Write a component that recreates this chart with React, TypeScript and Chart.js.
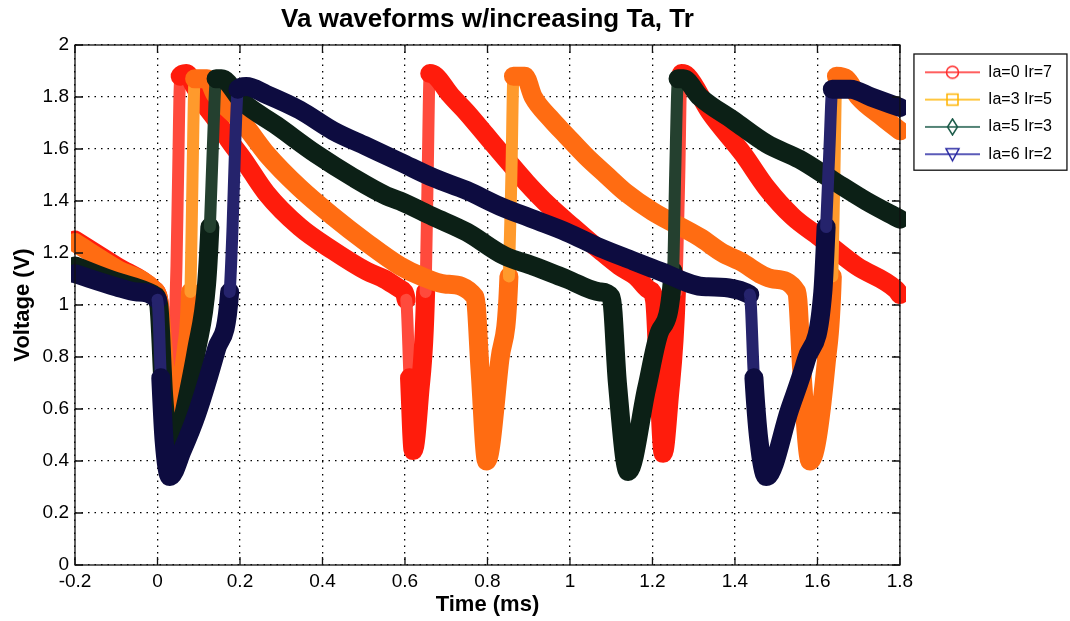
import React, { useEffect, useRef } from 'react';
import { Chart, registerables } from 'chart.js';

Chart.register(...registerables);

const chartTitle = 'Va waveforms w/increasing Ta, Tr';
const xAxisTitle = 'Time (ms)';
const yAxisTitle = 'Voltage (V)';
const seriesLabels = ['Ia=0 Ir=7', 'Ia=3 Ir=5', 'Ia=5 Ir=3', 'Ia=6 Ir=2'];
const xTickValues = [-0.2, 0, 0.2, 0.4, 0.6, 0.8, 1, 1.2, 1.4, 1.6, 1.8];
const yTickValues = [0, 0.2, 0.4, 0.6, 0.8, 1, 1.2, 1.4, 1.6, 1.8, 2];

// [time (ms), voltage (V)]
const redIa0: [number, number][] = [
  [-0.2, 1.25], [-0.1, 1.15], [-0.01, 1.06], [0.003, 1.02], [0.018, 0.72], [0.03, 0.47],
  [0.04, 0.8], [0.046, 1.15], [0.05, 1.5], [0.055, 1.88], [0.07, 1.89], [0.09, 1.84],
  [0.115, 1.77], [0.143, 1.71], [0.175, 1.63], [0.208, 1.56], [0.264, 1.43], [0.345, 1.3],
  [0.425, 1.21], [0.507, 1.13], [0.55, 1.1], [0.59, 1.06], [0.603, 1.02], [0.611, 0.72],
  [0.62, 0.44], [0.635, 0.65], [0.65, 1.05], [0.655, 1.5], [0.66, 1.89], [0.675, 1.88],
  [0.709, 1.81], [0.75, 1.74], [0.798, 1.65], [0.846, 1.56], [0.895, 1.47], [0.95, 1.38],
  [1.007, 1.3], [1.073, 1.21], [1.12, 1.15], [1.16, 1.11], [1.19, 1.06], [1.205, 1.02],
  [1.215, 0.72], [1.226, 0.43], [1.24, 0.63], [1.258, 1.05], [1.265, 1.5], [1.27, 1.89],
  [1.285, 1.88], [1.34, 1.74], [1.42, 1.58], [1.477, 1.45], [1.54, 1.34], [1.606, 1.26],
  [1.695, 1.15], [1.79, 1.06], [1.8, 1.04],
];

const orangeIa3: [number, number][] = [
  [-0.2, 1.24], [-0.1, 1.14], [-0.01, 1.06], [0.003, 1.02], [0.018, 0.75], [0.035, 0.49],
  [0.05, 0.65], [0.07, 0.83], [0.08, 1.05], [0.085, 1.5], [0.09, 1.87], [0.12, 1.87],
  [0.14, 1.81], [0.207, 1.7], [0.265, 1.58], [0.345, 1.45], [0.426, 1.34], [0.507, 1.24],
  [0.588, 1.15], [0.64, 1.11], [0.7, 1.08], [0.77, 1.03], [0.782, 0.75], [0.798, 0.4],
  [0.83, 0.79], [0.852, 1.11], [0.858, 1.5], [0.863, 1.88], [0.89, 1.88], [0.911, 1.8],
  [0.951, 1.72], [0.992, 1.65], [1.04, 1.57], [1.088, 1.5], [1.137, 1.43], [1.2, 1.36],
  [1.315, 1.26], [1.37, 1.2], [1.41, 1.17], [1.493, 1.1], [1.55, 1.05], [1.562, 0.75],
  [1.582, 0.4], [1.622, 0.79], [1.636, 1.11], [1.641, 1.5], [1.646, 1.88], [1.67, 1.87],
  [1.7, 1.8], [1.76, 1.72], [1.8, 1.67],
];

const greenIa5: [number, number][] = [
  [-0.2, 1.15], [-0.1, 1.09], [-0.01, 1.04], [0.003, 1.0], [0.015, 0.65], [0.035, 0.38],
  [0.06, 0.55], [0.095, 0.83], [0.119, 1.08], [0.127, 1.3], [0.134, 1.6], [0.142, 1.87],
  [0.155, 1.87], [0.207, 1.78], [0.289, 1.69], [0.385, 1.58], [0.475, 1.49], [0.555, 1.42],
  [0.588, 1.4], [0.668, 1.34], [0.75, 1.28], [0.84, 1.19], [0.911, 1.15], [0.992, 1.1],
  [1.073, 1.05], [1.1, 1.03], [1.115, 0.7], [1.141, 0.36], [1.186, 0.68], [1.218, 0.9],
  [1.25, 1.13], [1.255, 1.5], [1.262, 1.87], [1.275, 1.87], [1.315, 1.8], [1.396, 1.71],
  [1.477, 1.62], [1.557, 1.56], [1.637, 1.48], [1.718, 1.4], [1.8, 1.33],
];

const navyIa6: [number, number][] = [
  [-0.2, 1.12], [-0.1, 1.07], [-0.05, 1.05], [0.0, 1.02], [0.008, 0.72], [0.016, 0.48],
  [0.03, 0.34], [0.06, 0.44], [0.095, 0.58], [0.143, 0.83], [0.175, 1.05], [0.182, 1.3],
  [0.188, 1.6], [0.195, 1.83], [0.215, 1.84], [0.264, 1.81], [0.345, 1.75], [0.426, 1.67],
  [0.507, 1.61], [0.588, 1.55], [0.668, 1.49], [0.75, 1.44], [0.83, 1.38], [0.911, 1.33],
  [0.992, 1.28], [1.073, 1.22], [1.153, 1.17], [1.218, 1.13], [1.33, 1.07], [1.436, 1.04],
  [1.446, 0.72], [1.458, 0.48], [1.476, 0.34], [1.533, 0.6], [1.573, 0.79], [1.613, 1.05],
  [1.621, 1.3], [1.629, 1.6], [1.636, 1.83], [1.68, 1.83], [1.73, 1.8], [1.8, 1.76],
];

const seriesData = [redIa0, orangeIa3, greenIa5, navyIa6];
const bandColors = ['#ff1c0c', '#ff6c12', '#0c2016', '#0d0c40'];
const hollowColors = ['#ff4a3c', '#ff9a2c', '#24402f', '#25236c'];
const legendColors = ['#ff2a2a', '#ffb400', '#1a5a48', '#2424a0'];
const markerShapes = ['circle', 'square', 'diamond', 'triangleDown'];

const FONT = "'Liberation Sans', Arial, Helvetica, sans-serif";

function makeIcon(color: string, shape: string): HTMLCanvasElement {
  const c = document.createElement('canvas');
  c.width = 55;
  c.height = 18;
  const g = c.getContext('2d')!;
  g.strokeStyle = color;
  g.lineWidth = 1.5;
  g.beginPath();
  g.moveTo(0, 9);
  g.lineTo(55, 9);
  g.stroke();
  const cx = 27.5;
  const cy = 9;
  g.beginPath();
  if (shape === 'circle') {
    g.arc(cx, cy, 6, 0, Math.PI * 2);
  } else if (shape === 'square') {
    g.rect(cx - 5.5, cy - 5.5, 11, 11);
  } else if (shape === 'diamond') {
    g.moveTo(cx, cy - 8);
    g.lineTo(cx + 5, cy);
    g.lineTo(cx, cy + 8);
    g.lineTo(cx - 5, cy);
    g.closePath();
  } else {
    g.moveTo(cx - 6.5, cy - 5.5);
    g.lineTo(cx + 6.5, cy - 5.5);
    g.lineTo(cx, cy + 6.5);
    g.closePath();
  }
  g.stroke();
  return c;
}

const isSteep = (ctx: any) => {
  const dx = Math.abs(ctx.p1.x - ctx.p0.x);
  const dy = Math.abs(ctx.p1.y - ctx.p0.y);
  return dy > 20 * Math.max(dx, 0.5) && dy > 40;
};

const framePlugin = {
  id: 'matlabFrame',
  afterDraw(chart: any) {
    const { ctx, chartArea: a, scales } = chart;
    ctx.save();
    ctx.strokeStyle = '#111';
    ctx.lineWidth = 1.3;
    ctx.strokeRect(a.left, a.top, a.right - a.left, a.bottom - a.top);
    ctx.beginPath();
    for (const v of xTickValues) {
      const px = scales.x.getPixelForValue(v);
      ctx.moveTo(px, a.bottom);
      ctx.lineTo(px, a.bottom - 8);
      ctx.moveTo(px, a.top);
      ctx.lineTo(px, a.top + 8);
    }
    for (const v of yTickValues) {
      const py = scales.y.getPixelForValue(v);
      ctx.moveTo(a.left, py);
      ctx.lineTo(a.left + 8, py);
      ctx.moveTo(a.right, py);
      ctx.lineTo(a.right - 8, py);
    }
    ctx.stroke();
    const hb = chart.legend && chart.legend.legendHitBoxes;
    if (hb && hb.length) {
      const left = hb[0].left - 11;
      const top = hb[0].top - 10.3;
      const last = hb[hb.length - 1];
      const bottom = last.top + last.height + 8;
      ctx.strokeRect(left, top, 153, bottom - top);
    }
    ctx.restore();
  },
};

const fmt = (v: any) => String(Number(Number(v).toFixed(1)));

export default function App() {
  const ref = useRef<HTMLCanvasElement | null>(null);

  useEffect(() => {
    document.body.style.margin = '0';
    const canvas = ref.current;
    if (!canvas) return;
    const icons = markerShapes.map((s, i) => makeIcon(legendColors[i], s));

    const chart = new Chart(canvas, {
      type: 'line',
      data: {
        datasets: seriesData.map((pts, i) => ({
          label: seriesLabels[i],
          data: pts.map(([t, v]) => ({ x: t, y: v })),
          borderColor: bandColors[i],
          backgroundColor: bandColors[i],
          borderWidth: 19,
          borderJoinStyle: 'round',
          borderCapStyle: 'round',
          pointRadius: 0,
          pointHoverRadius: 0,
          cubicInterpolationMode: 'monotone',
          fill: false,
          order: 3 - i,
          clip: { left: 4, right: 6, top: 0, bottom: 0 },
          segment: {
            borderColor: (c: any) => (isSteep(c) ? hollowColors[i] : undefined),
            borderWidth: (c: any) => (isSteep(c) ? 12 : undefined),
          },
        })) as any,
      },
      options: {
        responsive: false,
        animation: false,
        events: [],
        layout: { padding: { left: 0, right: 8, top: 0, bottom: 0 } },
        plugins: {
          title: {
            display: true,
            text: chartTitle,
            color: '#000',
            fullSize: false,
            font: { family: FONT, size: 26, weight: 'bold' },
            padding: { top: 4.5, bottom: 9.3 },
          },
          legend: {
            display: true,
            position: 'right',
            align: 'start',
            fullSize: false,
            title: { display: true, text: '', font: { size: 8, lineHeight: 1 }, padding: 0 },
            labels: {
              usePointStyle: true,
              pointStyleWidth: 55,
              color: '#000',
              padding: 11.3,
              font: { family: FONT, size: 16 },
              generateLabels: () =>
                seriesLabels.map((text, i) => ({
                  text,
                  pointStyle: icons[i],
                  datasetIndex: i,
                  hidden: false,
                  lineWidth: 0,
                  strokeStyle: 'rgba(0,0,0,0)',
                  fillStyle: 'rgba(0,0,0,0)',
                  fontColor: '#000',
                })),
            },
          },
          tooltip: { enabled: false },
        },
        scales: {
          x: {
            type: 'linear',
            min: -0.2,
            max: 1.8,
            afterBuildTicks: (s: any) => {
              s.ticks = xTickValues.map((value) => ({ value }));
            },
            afterFit: (s: any) => {
              s.height = 56;
            },
            grid: { color: '#000', lineWidth: 1.3, drawTicks: false },
            border: { display: false, dash: [1.5, 5] },
            ticks: {
              color: '#000',
              padding: 5.6,
              maxRotation: 0,
              autoSkip: false,
              font: { family: FONT, size: 19 },
              callback: fmt,
            },
            title: {
              display: true,
              text: xAxisTitle,
              color: '#000',
              font: { family: FONT, size: 22, weight: 'bold' },
              padding: { top: 0, bottom: 2.8 },
            },
          },
          y: {
            type: 'linear',
            min: 0,
            max: 2,
            afterBuildTicks: (s: any) => {
              s.ticks = yTickValues.map((value) => ({ value }));
            },
            afterFit: (s: any) => {
              s.width = 75;
            },
            grid: { color: '#000', lineWidth: 1.3, drawTicks: false },
            border: { display: false, dash: [1.5, 5] },
            ticks: {
              color: '#000',
              padding: 6,
              autoSkip: false,
              font: { family: FONT, size: 19 },
              callback: fmt,
            },
            title: {
              display: true,
              text: yAxisTitle,
              color: '#000',
              font: { family: FONT, size: 22, weight: 'bold' },
              padding: { top: 9.3, bottom: 0 },
            },
          },
          y2: {
            type: 'linear',
            position: 'right',
            min: 0,
            max: 2,
            display: true,
            afterFit: (s: any) => {
              s.width = 13.7;
            },
            grid: { display: false, drawTicks: false },
            border: { display: false },
            ticks: { display: false },
          },
        },
      } as any,
      plugins: [framePlugin],
    });

    return () => {
      chart.destroy();
    };
  }, []);

  return (
    <div style={{ width: 1070, height: 621, background: '#fff' }}>
      <canvas ref={ref} width={1070} height={621} style={{ display: 'block' }} />
    </div>
  );
}
